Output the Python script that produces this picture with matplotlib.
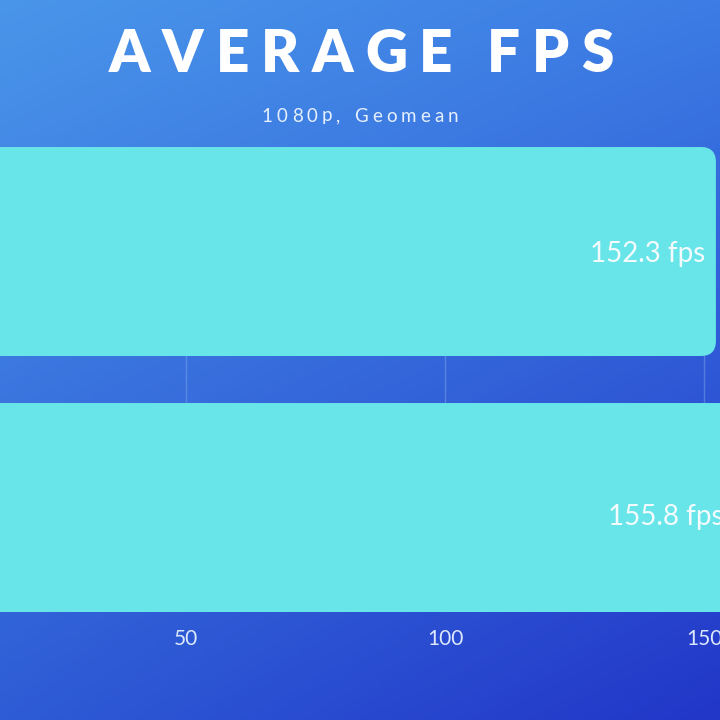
import numpy as np
import matplotlib
matplotlib.use("Agg")
import matplotlib.pyplot as plt
from matplotlib.patches import FancyBboxPatch

# ---- data ----
categories = ["A", "B"]
values = [152.3, 155.8]
value_labels = ["152.3 fps", "155.8 fps"]
ticks = [50, 100, 150]
tick_labels = ["50", "100", "150"]
title = "AVERAGE FPS"
subtitle = "1080p, Geomean"

BAR = "#68E5E8"
label_dy = [-2, -9]  # pixel nudges of the value labels

fig = plt.figure(figsize=(7.2, 7.2), dpi=100)

# background gradient
bg = fig.add_axes([0, 0, 1, 1])
bg.set_axis_off()
tl = np.array([74, 150, 234]) / 255
tr = np.array([60, 124, 228]) / 255
bl = np.array([46, 92, 214]) / 255
br = np.array([34, 54, 200]) / 255
n = 200
u = np.linspace(0, 1, n)
U, V = np.meshgrid(u, u)
img = (tl[None, None, :] * ((1 - U) * (1 - V))[..., None]
       + tr[None, None, :] * (U * (1 - V))[..., None]
       + bl[None, None, :] * ((1 - U) * V)[..., None]
       + br[None, None, :] * (U * V)[..., None])
bg.imshow(img, extent=[0, 1, 0, 1], aspect="auto", origin="upper")
bg.set_xlim(0, 1); bg.set_ylim(0, 1)

# main axes
ax = fig.add_axes([0, 0.15, 1, 0.6458])
ax.patch.set_alpha(0)
ypos = np.arange(len(values))
h = 0.8164
ax.set_xlim(14.09, 153.09)
ax.set_ylim(1 + h / 2, -h / 2)

bars = ax.barh(ypos, values, height=h, color=BAR, zorder=2)
ax_w_px = 720
ax_h_px = 0.6458 * 720
xr = 153.09 - 14.09
yr = 1 + h
aspect = (yr / ax_h_px) / (xr / ax_w_px)
for b in bars:
    x0, y0 = b.get_x(), b.get_y()
    w, hh = b.get_width(), b.get_height()
    b.set_visible(False)
    p = FancyBboxPatch((x0 - 20, y0), w + 20, hh,
                       boxstyle="round,pad=0,rounding_size=2.9",
                       mutation_aspect=aspect, facecolor=BAR,
                       edgecolor="none", zorder=2)
    ax.add_patch(p)

for yy, v, lab, dy in zip(ypos, values, value_labels, label_dy):
    ax.annotate(lab, (v, yy), xytext=(-11, dy), textcoords="offset pixels",
                ha="right", va="center", color="#F4FBFF", fontsize=20,
                family=["Lato", "DejaVu Sans"], fontweight="normal",
                zorder=3, annotation_clip=False)

ax.set_xticks(ticks)
ax.set_xticklabels(tick_labels, color="#DCE8FC", fontsize=15,
                   family=["Lato", "DejaVu Sans"], fontweight="normal")
ax.tick_params(axis="x", length=0, pad=12)
ax.set_yticks([])
ax.grid(axis="x", color="#8FB4F0", alpha=0.4, linewidth=1, zorder=0)
ax.set_axisbelow(True)
for s in ax.spines.values():
    s.set_visible(False)

# tracked text helper
renderer = fig.canvas.get_renderer()

def tracked(text, xc, y, track, space=0.6, **kw):
    widths = []
    for ch in text:
        t = fig.text(0, y, ch if ch != " " else "n", transform=None, **kw)
        bb = t.get_window_extent(renderer)
        widths.append(bb.width if ch != " " else bb.width * space)
        t.remove()
    total = sum(widths) + track * (len(text) - 1)
    x = xc - total / 2
    for ch, w in zip(text, widths):
        if ch != " ":
            fig.text(x, y, ch, ha="left", va="center", transform=None, **kw)
        x += w + track

tracked(title, 361, 720 - 55, 12, space=0.3, fontsize=42, color="white",
        fontweight="heavy", family=["Lato", "DejaVu Sans"])
tracked(subtitle, 360, 720 - 116, 4.0, fontsize=13.5, color="#E6F0FF",
        family=["Lato", "DejaVu Sans"])

fig.savefig("out.png", dpi=100)
